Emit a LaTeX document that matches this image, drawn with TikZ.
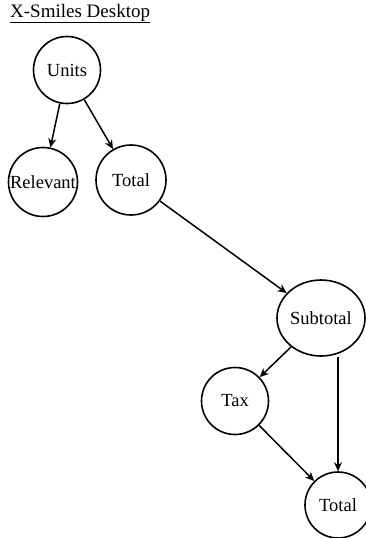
\documentclass[tikz,border=0pt]{standalone}
\usepackage{fontspec}
\setmainfont{Liberation Serif}
\usetikzlibrary{shapes.geometric,arrows.meta}
\begin{document}
\begin{tikzpicture}[x=1pt,y=-1pt,
  cnode/.style={draw,circle,line width=1.6pt,minimum size=67pt,inner sep=0pt,font=\fontsize{18.5}{20}\selectfont},
  enode/.style={draw,ellipse,line width=1.6pt,minimum width=88pt,minimum height=76pt,inner sep=0pt,font=\fontsize{18.5}{20}\selectfont},
  edge/.style={line width=1.5pt,-{Stealth[length=9pt,width=8pt]}}]
\useasboundingbox (0,0) rectangle (366,538);
\node[anchor=base west,inner sep=0pt,font=\fontsize{19}{21}\selectfont] (title) at (10,17) {\underline{X-Smiles Desktop}};
\node[cnode] (units) at (67,70) {Units};
\node[cnode,minimum size=69pt] (rel) at (43,182) {Relevant};
\node[cnode,minimum size=70pt] (tot1) at (131,180) {Total};
\node[enode] (sub) at (321,318) {Subtotal};
\node[cnode,minimum size=67pt] (tax) at (235,401) {Tax};
\node[cnode,minimum size=66pt] (tot2) at (338,505) {Total};
\draw[edge] (units) -- (rel);
\draw[edge] (units) -- (tot1);
\draw[edge] (tot1) -- (sub);
\draw[edge] (sub) -- (tax);
\draw[edge] (sub.south -| tot2) -- (tot2);
\draw[edge] (tax) -- (tot2);
\end{tikzpicture}
\end{document}
